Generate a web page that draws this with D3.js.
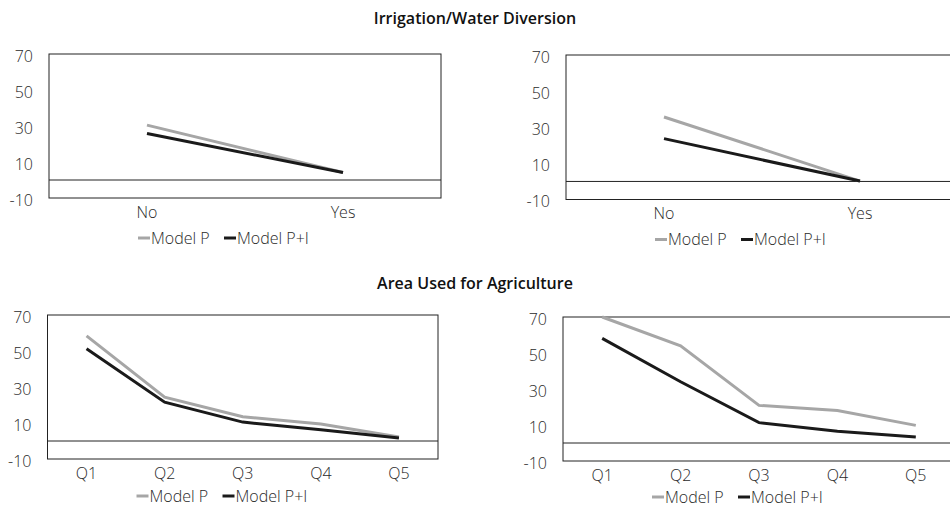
<!DOCTYPE html>
<html lang="en">
<head>
    <meta charset="UTF-8">
    <title>Irrigation and Area Used for Agriculture</title>
    <script src="https://cdn.jsdelivr.net/npm/d3@7/dist/d3.min.js"></script>
    <style>
        body { margin: 0; background: #fff; }
        svg { display: block; font-family: "Open Sans", "Noto Sans", sans-serif; }
        .tick-label { font-size: 16px; font-weight: 300; fill: #2a2a2a; }
        .legend text { font-size: 16px; font-weight: 300; fill: #2a2a2a; }
        .title { font-size: 16px; font-weight: 600; fill: #111; }
    </style>
</head>
<body>
    <svg width="950" height="510"></svg>
    <script>
        // data
        const yesNo = ["No", "Yes"];
        const quintiles = ["Q1", "Q2", "Q3", "Q4", "Q5"];
        const yTicks = [-10, 10, 30, 50, 70];
        const seriesNames = ["Model P", "Model P+I"];

        const irrLeftP = [30.5, 4.2];
        const irrLeftPI = [25.8, 4.2];
        const irrRightP = [35.7, 0.2];
        const irrRightPI = [23.7, 0.2];

        const areaLeftP = [58.4, 24.4, 13.5, 9.4, 2.2];
        const areaLeftPI = [51.2, 21.6, 10.5, 6.3, 1.7];
        const areaRightP = [70, 54, 20.9, 18.1, 9.8];
        const areaRightPI = [58.1, 34, 11.3, 6.5, 3.3];

        const colors = ["#a6a6a6", "#1a1a1a"];

        const svg = d3.select("svg");

        const panels = [
            { x0: 49, x1: 441, y0: 54, y1: 198, lgY: 40, cats: yesNo, p: irrLeftP, pi: irrLeftPI },
            { x0: 566, x1: 958, y0: 55, y1: 199.5, lgY: 40, cats: yesNo, p: irrRightP, pi: irrRightPI },
            { x0: 47.5, x1: 438, y0: 315, y1: 459, lgY: 37, cats: quintiles, p: areaLeftP, pi: areaLeftPI },
            { x0: 563, x1: 955, y0: 317, y1: 461, lgY: 36, cats: quintiles, p: areaRightP, pi: areaRightPI }
        ];

        svg.append("text").attr("class", "title")
            .attr("x", 475).attr("y", 24).attr("text-anchor", "middle")
            .text("Irrigation/Water Diversion");
        svg.append("text").attr("class", "title")
            .attr("x", 475).attr("y", 289).attr("text-anchor", "middle")
            .text("Area Used for Agriculture");

        panels.forEach(pn => {
            const g = svg.append("g");
            const x = d3.scalePoint().domain(pn.cats).range([pn.x0, pn.x1]).padding(0.5);
            const y = d3.scaleLinear().domain([-10, 70]).range([pn.y1, pn.y0]);

            g.append("rect")
                .attr("x", pn.x0).attr("y", pn.y0)
                .attr("width", pn.x1 - pn.x0).attr("height", pn.y1 - pn.y0)
                .attr("fill", "none").attr("stroke", "#222").attr("stroke-width", 1);

            g.append("line")
                .attr("x1", pn.x0).attr("x2", pn.x1)
                .attr("y1", y(0)).attr("y2", y(0))
                .attr("stroke", "#222").attr("stroke-width", 1);

            g.selectAll(".ytick").data(yTicks).join("text")
                .attr("class", "tick-label")
                .attr("x", pn.x0 - 16).attr("y", d => y(d) + 2)
                .attr("dy", "0.35em").attr("text-anchor", "end")
                .text(d => d);

            g.selectAll(".xtick").data(pn.cats).join("text")
                .attr("class", "tick-label")
                .attr("x", d => x(d)).attr("y", pn.y1 + 14)
                .attr("dy", "0.35em").attr("text-anchor", "middle")
                .text(d => d);

            const line = d3.line()
                .x((d, i) => x(pn.cats[i]))
                .y(d => y(d));

            [pn.p, pn.pi].forEach((vals, k) => {
                g.append("path")
                    .attr("d", line(vals))
                    .attr("fill", "none")
                    .attr("stroke", colors[k])
                    .attr("stroke-width", 3);
            });

            // legend
            const lg = g.append("g").attr("class", "legend")
                .attr("transform", `translate(${pn.x0 + 89},${pn.y1 + pn.lgY})`);
            const offsets = [0, 86];
            seriesNames.forEach((name, k) => {
                lg.append("line")
                    .attr("x1", offsets[k]).attr("x2", offsets[k] + 12)
                    .attr("y1", 0).attr("y2", 0)
                    .attr("stroke", colors[k]).attr("stroke-width", 3);
                lg.append("text")
                    .attr("x", offsets[k] + 13).attr("y", 0).attr("dy", "0.35em")
                    .text(name);
            });
        });
    </script>
</body>
</html>
